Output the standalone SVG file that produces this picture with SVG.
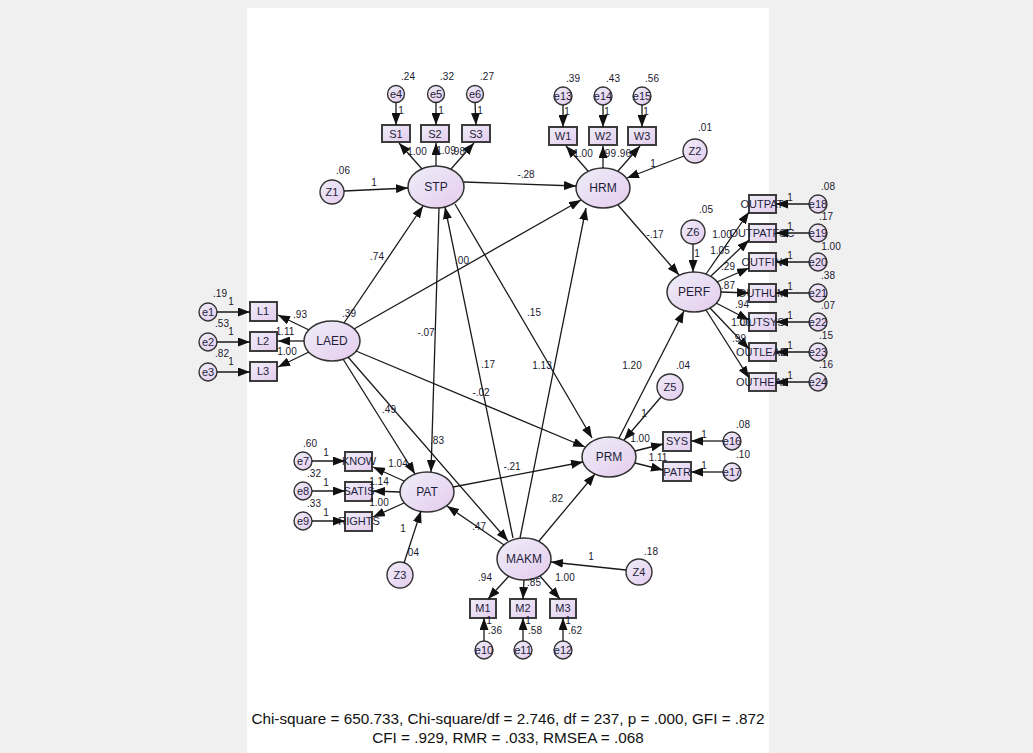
<svg xmlns="http://www.w3.org/2000/svg" width="1033" height="753" viewBox="0 0 1033 753">
<defs>
  <linearGradient id="fillg" x1="0" y1="0" x2="1" y2="1">
    <stop offset="0" stop-color="#eeeef8"/>
    <stop offset="1" stop-color="#e5ccee"/>
  </linearGradient>
  <marker id="ah" markerUnits="userSpaceOnUse" markerWidth="12" markerHeight="9" viewBox="0 0 12 9" refX="12" refY="4.5" orient="auto">
    <path d="M0,0 L12,4.5 L0,9 z" fill="#111"/>
  </marker>
  <style>
    .lat{fill:url(#fillg);stroke:#333;stroke-width:1.5}
    .obs{fill:url(#fillg);stroke:#3c3c3c;stroke-width:2}
    .err{fill:url(#fillg);stroke:#333;stroke-width:1.4}
    .cn line{stroke:#1a1a1a;stroke-width:1.3;marker-end:url(#ah)}
    text{font-family:"Liberation Sans",Arial,sans-serif;text-anchor:middle;dominant-baseline:central;fill:#1e1e3a}
    .nm{font-size:12px}
    .ob{font-size:11px}
    .el{font-size:11px}
    .c{font-size:10px;fill:#1a1a2e}
    .fit{font-size:15.3px;fill:#111}
  </style>
</defs>

<!-- page background and white drawing panel -->
<rect x="0" y="0" width="1033" height="753" fill="#f0f0f0"/>
<rect x="247" y="8" width="522" height="745" fill="#ffffff"/>

<!-- latent variables -->
<g id="STP"><ellipse class="lat" cx="436" cy="187" rx="28" ry="21"/><text class="nm" x="436" y="187">STP</text></g>
<g id="HRM"><ellipse class="lat" cx="603" cy="188" rx="27" ry="20"/><text class="nm" x="603" y="188">HRM</text></g>
<g id="PERF"><ellipse class="lat" cx="694" cy="292" rx="27" ry="20"/><text class="nm" x="694" y="292">PERF</text></g>
<g id="LAED"><ellipse class="lat" cx="332" cy="341" rx="28" ry="20"/><text class="nm" x="332" y="341">LAED</text></g>
<g id="PAT"><ellipse class="lat" cx="427" cy="492" rx="27" ry="20"/><text class="nm" x="427" y="492">PAT</text></g>
<g id="PRM"><ellipse class="lat" cx="609" cy="457" rx="27" ry="20"/><text class="nm" x="609" y="457">PRM</text></g>
<g id="MAKM"><ellipse class="lat" cx="524" cy="559" rx="27" ry="21"/><text class="nm" x="524" y="559">MAKM</text></g>

<!-- disturbances -->
<g id="Z1"><circle class="err" cx="332" cy="192" r="12"/><text class="el" x="332" y="192">Z1</text></g>
<g id="Z2"><circle class="err" cx="695" cy="151" r="12"/><text class="el" x="695" y="151">Z2</text></g>
<g id="Z3"><circle class="err" cx="400" cy="575" r="13"/><text class="el" x="400" y="575">Z3</text></g>
<g id="Z4"><circle class="err" cx="639" cy="572" r="13"/><text class="el" x="639" y="572">Z4</text></g>
<g id="Z5"><circle class="err" cx="670" cy="387" r="13"/><text class="el" x="670" y="387">Z5</text></g>
<g id="Z6"><circle class="err" cx="693" cy="232" r="12"/><text class="el" x="693" y="232">Z6</text></g>

<!-- observed indicators -->
<g id="S1"><rect class="obs" x="382" y="125" width="28" height="17"/><text class="ob" x="396" y="134">S1</text></g>
<g id="S2"><rect class="obs" x="421" y="125" width="28" height="17"/><text class="ob" x="435" y="134">S2</text></g>
<g id="S3"><rect class="obs" x="462" y="125" width="28" height="17"/><text class="ob" x="476" y="134">S3</text></g>
<g id="W1"><rect class="obs" x="549" y="127" width="28" height="18"/><text class="ob" x="563" y="136">W1</text></g>
<g id="W2"><rect class="obs" x="589" y="127" width="28" height="18"/><text class="ob" x="603" y="136">W2</text></g>
<g id="W3"><rect class="obs" x="628" y="127" width="28" height="18"/><text class="ob" x="642" y="136">W3</text></g>
<g id="L1"><rect class="obs" x="250" y="302" width="27" height="19"/><text class="ob" x="263" y="311">L1</text></g>
<g id="L2"><rect class="obs" x="250" y="332" width="27" height="19"/><text class="ob" x="263" y="341">L2</text></g>
<g id="L3"><rect class="obs" x="250" y="362" width="27" height="19"/><text class="ob" x="263" y="371">L3</text></g>
<g id="KNOW"><rect class="obs" x="345" y="452" width="27" height="19"/><text class="ob" x="359" y="461">KNOW</text></g>
<g id="SATIS"><rect class="obs" x="345" y="482" width="27" height="19"/><text class="ob" x="359" y="491">SATIS</text></g>
<g id="RIGHTS"><rect class="obs" x="345" y="512" width="27" height="19"/><text class="ob" x="359" y="521">RIGHTS</text></g>
<g id="M1"><rect class="obs" x="470" y="599" width="26" height="19"/><text class="ob" x="483" y="608">M1</text></g>
<g id="M2"><rect class="obs" x="510" y="599" width="26" height="19"/><text class="ob" x="523" y="608">M2</text></g>
<g id="M3"><rect class="obs" x="550" y="599" width="26" height="19"/><text class="ob" x="563" y="608">M3</text></g>
<g id="SYS"><rect class="obs" x="663" y="432" width="28" height="19"/><text class="ob" x="677" y="441">SYS</text></g>
<g id="PATR"><rect class="obs" x="663" y="462" width="28" height="19"/><text class="ob" x="677" y="472">PATR</text></g>
<g id="OUTPAT"><rect class="obs" x="749" y="195" width="27" height="18"/><text class="ob" x="762" y="204">OUTPAT</text></g>
<g id="OUTPATFSC"><rect class="obs" x="749" y="224" width="27" height="18"/><text class="ob" x="762" y="233">OUTPATFSC</text></g>
<g id="OUTFIN"><rect class="obs" x="749" y="253" width="27" height="18"/><text class="ob" x="762" y="262">OUTFIN</text></g>
<g id="OUTHUM"><rect class="obs" x="749" y="284" width="27" height="18"/><text class="ob" x="762" y="293">OUTHUM</text></g>
<g id="OUTSYS"><rect class="obs" x="749" y="313" width="27" height="18"/><text class="ob" x="762" y="322">OUTSYS</text></g>
<g id="OUTLEAD"><rect class="obs" x="749" y="343" width="27" height="18"/><text class="ob" x="762" y="352">OUTLEAD</text></g>
<g id="OUTHEAL"><rect class="obs" x="749" y="373" width="27" height="18"/><text class="ob" x="762" y="382">OUTHEAL</text></g>

<!-- measurement errors -->
<g id="e1"><circle class="err" cx="208" cy="312" r="9"/><text class="el" x="208" y="312">e1</text></g>
<g id="e2"><circle class="err" cx="208" cy="342" r="9"/><text class="el" x="208" y="342">e2</text></g>
<g id="e3"><circle class="err" cx="208" cy="372" r="9"/><text class="el" x="208" y="372">e3</text></g>
<g id="e4"><circle class="err" cx="396" cy="94" r="8.5"/><text class="el" x="396" y="94">e4</text></g>
<g id="e5"><circle class="err" cx="436" cy="94" r="8.5"/><text class="el" x="436" y="94">e5</text></g>
<g id="e6"><circle class="err" cx="475" cy="94" r="8.5"/><text class="el" x="475" y="94">e6</text></g>
<g id="e7"><circle class="err" cx="303" cy="461" r="9"/><text class="el" x="303" y="461">e7</text></g>
<g id="e8"><circle class="err" cx="303" cy="491" r="9"/><text class="el" x="303" y="491">e8</text></g>
<g id="e9"><circle class="err" cx="303" cy="521" r="9"/><text class="el" x="303" y="521">e9</text></g>
<g id="e10"><circle class="err" cx="484" cy="650" r="9"/><text class="el" x="484" y="650">e10</text></g>
<g id="e11"><circle class="err" cx="523" cy="650" r="9"/><text class="el" x="523" y="650">e11</text></g>
<g id="e12"><circle class="err" cx="563" cy="650" r="9"/><text class="el" x="563" y="650">e12</text></g>
<g id="e13"><circle class="err" cx="563" cy="96" r="9"/><text class="el" x="563" y="96">e13</text></g>
<g id="e14"><circle class="err" cx="603" cy="96" r="9"/><text class="el" x="603" y="96">e14</text></g>
<g id="e15"><circle class="err" cx="642" cy="96" r="9"/><text class="el" x="642" y="96">e15</text></g>
<g id="e16"><circle class="err" cx="732" cy="441" r="9"/><text class="el" x="732" y="441">e16</text></g>
<g id="e17"><circle class="err" cx="732" cy="472" r="9"/><text class="el" x="732" y="472">e17</text></g>
<g id="e18"><circle class="err" cx="818" cy="204" r="9"/><text class="el" x="818" y="204">e18</text></g>
<g id="e19"><circle class="err" cx="818" cy="233" r="9"/><text class="el" x="818" y="233">e19</text></g>
<g id="e20"><circle class="err" cx="818" cy="262" r="9"/><text class="el" x="818" y="262">e20</text></g>
<g id="e21"><circle class="err" cx="818" cy="293" r="9"/><text class="el" x="818" y="293">e21</text></g>
<g id="e22"><circle class="err" cx="818" cy="322" r="9"/><text class="el" x="818" y="322">e22</text></g>
<g id="e23"><circle class="err" cx="818" cy="352" r="9"/><text class="el" x="818" y="352">e23</text></g>
<g id="e24"><circle class="err" cx="818" cy="382" r="9"/><text class="el" x="818" y="382">e24</text></g>

<!-- paths and loadings -->
<g id="connectors" class="cn">
  <!-- structural paths -->
  <line x1="344" y1="191" x2="408" y2="188"/>
  <line x1="464" y1="182" x2="576" y2="186"/>
  <line x1="344" y1="323" x2="423" y2="206"/>
  <line x1="354" y1="329" x2="581" y2="200"/>
  <line x1="356" y1="351" x2="585" y2="447"/>
  <line x1="343" y1="359" x2="415" y2="474"/>
  <line x1="348" y1="357" x2="508" y2="541"/>
  <line x1="439" y1="208" x2="431" y2="472"/>
  <line x1="513" y1="538" x2="445" y2="207"/>
  <line x1="455" y1="204" x2="592" y2="438"/>
  <line x1="520" y1="538" x2="586" y2="208"/>
  <line x1="539" y1="541" x2="595" y2="474"/>
  <line x1="504" y1="545" x2="447" y2="506"/>
  <line x1="453" y1="487" x2="583" y2="462"/>
  <line x1="619" y1="438" x2="684" y2="311"/>
  <line x1="618" y1="205" x2="679" y2="275"/>
  <line x1="684" y1="156" x2="627" y2="178"/>
  <line x1="693" y1="244" x2="693" y2="272"/>
  <line x1="661" y1="397" x2="624" y2="440"/>
  <line x1="404" y1="563" x2="421" y2="511"/>
  <line x1="626" y1="570" x2="551" y2="562"/>
  <!-- STP indicators -->
  <line x1="422" y1="169" x2="399" y2="143"/>
  <line x1="436" y1="166" x2="436" y2="143"/>
  <line x1="451" y1="169" x2="474" y2="143"/>
  <line x1="396" y1="102" x2="396" y2="125"/>
  <line x1="436" y1="102" x2="436" y2="125"/>
  <line x1="475" y1="102" x2="476" y2="125"/>
  <!-- HRM indicators -->
  <line x1="588" y1="171" x2="566" y2="146"/>
  <line x1="603" y1="168" x2="603" y2="146"/>
  <line x1="618" y1="171" x2="640" y2="146"/>
  <line x1="563" y1="105" x2="563" y2="127"/>
  <line x1="603" y1="105" x2="603" y2="127"/>
  <line x1="642" y1="105" x2="642" y2="127"/>
  <!-- LAED indicators -->
  <line x1="309" y1="330" x2="278" y2="315"/>
  <line x1="304" y1="341" x2="278" y2="341"/>
  <line x1="309" y1="352" x2="278" y2="367"/>
  <line x1="217" y1="312" x2="250" y2="312"/>
  <line x1="217" y1="342" x2="250" y2="342"/>
  <line x1="217" y1="372" x2="250" y2="372"/>
  <!-- PAT indicators -->
  <line x1="404" y1="481" x2="373" y2="467"/>
  <line x1="400" y1="492" x2="373" y2="491"/>
  <line x1="404" y1="503" x2="373" y2="517"/>
  <line x1="312" y1="461" x2="345" y2="461"/>
  <line x1="312" y1="491" x2="345" y2="491"/>
  <line x1="312" y1="521" x2="345" y2="521"/>
  <!-- MAKM indicators -->
  <line x1="509" y1="576" x2="488" y2="599"/>
  <line x1="524" y1="580" x2="523" y2="599"/>
  <line x1="540" y1="576" x2="560" y2="599"/>
  <line x1="484" y1="641" x2="484" y2="618"/>
  <line x1="523" y1="641" x2="523" y2="618"/>
  <line x1="563" y1="641" x2="563" y2="618"/>
  <!-- PRM indicators -->
  <line x1="635" y1="451" x2="663" y2="444"/>
  <line x1="635" y1="463" x2="663" y2="470"/>
  <line x1="723" y1="441" x2="691" y2="441"/>
  <line x1="723" y1="472" x2="691" y2="472"/>
  <!-- PERF indicators -->
  <line x1="706" y1="274" x2="749" y2="212"/>
  <line x1="711" y1="276" x2="749" y2="240"/>
  <line x1="717" y1="282" x2="749" y2="268"/>
  <line x1="721" y1="292" x2="749" y2="293"/>
  <line x1="716" y1="303" x2="749" y2="320"/>
  <line x1="710" y1="308" x2="749" y2="349"/>
  <line x1="706" y1="310" x2="749" y2="378"/>
  <line x1="809" y1="204" x2="776" y2="204"/>
  <line x1="809" y1="233" x2="776" y2="233"/>
  <line x1="809" y1="262" x2="776" y2="262"/>
  <line x1="809" y1="293" x2="776" y2="293"/>
  <line x1="809" y1="322" x2="776" y2="322"/>
  <line x1="809" y1="352" x2="776" y2="352"/>
  <line x1="809" y1="382" x2="776" y2="382"/>
</g>

<!-- estimates -->
<g id="estimates" class="c">
  <text class="c" x="408" y="76">.24</text><text class="c" x="447" y="76">.32</text><text class="c" x="487" y="76">.27</text>
  <text class="c" x="401" y="110">1</text><text class="c" x="441" y="110">1</text><text class="c" x="480" y="110">1</text>
  <text class="c" x="417" y="151">1.00</text><text class="c" x="446" y="150">1.09</text><text class="c" x="458" y="151">.98</text>
  <text class="c" x="343" y="170">.06</text><text class="c" x="374" y="182">1</text>
  <text class="c" x="573" y="78">.39</text><text class="c" x="613" y="78">.43</text><text class="c" x="652" y="78">.56</text>
  <text class="c" x="567" y="111">1</text><text class="c" x="607" y="111">1</text><text class="c" x="646" y="111">1</text>
  <text class="c" x="583" y="153">1.00</text><text class="c" x="609" y="153">.99</text><text class="c" x="624" y="153">.96</text>
  <text class="c" x="705" y="127">.01</text><text class="c" x="653" y="163">1</text>
  <text class="c" x="526" y="174">-.28</text>
  <text class="c" x="220" y="293">.19</text><text class="c" x="231" y="301">1</text>
  <text class="c" x="222" y="323">.53</text><text class="c" x="231" y="331">1</text>
  <text class="c" x="222" y="353">.82</text><text class="c" x="231" y="361">1</text>
  <text class="c" x="300" y="314">.93</text><text class="c" x="285" y="331">1.11</text><text class="c" x="287" y="351">1.00</text>
  <text class="c" x="349" y="313">.39</text>
  <text class="c" x="377" y="256">.74</text><text class="c" x="462" y="260">.00</text><text class="c" x="426" y="332">-.07</text>
  <text class="c" x="534" y="312">.15</text><text class="c" x="488" y="364">.17</text><text class="c" x="542" y="365">1.13</text>
  <text class="c" x="481" y="392">-.02</text><text class="c" x="389" y="409">.49</text><text class="c" x="437" y="440">.83</text>
  <text class="c" x="512" y="466">-.21</text><text class="c" x="556" y="498">.82</text><text class="c" x="479" y="526">.47</text>
  <text class="c" x="632" y="365">1.20</text><text class="c" x="655" y="234">-.17</text>
  <text class="c" x="310" y="443">.60</text><text class="c" x="326" y="452">1</text>
  <text class="c" x="314" y="473">.32</text><text class="c" x="326" y="482">1</text>
  <text class="c" x="314" y="503">.33</text><text class="c" x="326" y="512">1</text>
  <text class="c" x="398" y="463">1.04</text><text class="c" x="379" y="481">1.14</text><text class="c" x="379" y="502">1.00</text>
  <text class="c" x="403" y="528">1</text><text class="c" x="412" y="552">.04</text>
  <text class="c" x="591" y="556">1</text><text class="c" x="651" y="551">.18</text>
  <text class="c" x="485" y="577">.94</text><text class="c" x="534" y="582">.85</text><text class="c" x="565" y="577">1.00</text>
  <text class="c" x="489" y="620">1</text><text class="c" x="495" y="630">.36</text>
  <text class="c" x="528" y="620">1</text><text class="c" x="535" y="630">.58</text>
  <text class="c" x="568" y="620">1</text><text class="c" x="575" y="630">.62</text>
  <text class="c" x="683" y="365">.04</text><text class="c" x="644" y="413">1</text>
  <text class="c" x="640" y="438">1.00</text><text class="c" x="658" y="457">1.11</text>
  <text class="c" x="743" y="424">.08</text><text class="c" x="704" y="434">1</text>
  <text class="c" x="743" y="454">.10</text><text class="c" x="704" y="465">1</text>
  <text class="c" x="706" y="209">.05</text><text class="c" x="697" y="253">1</text>
  <text class="c" x="722" y="234">1.00</text><text class="c" x="720" y="250">1.05</text><text class="c" x="728" y="266">.29</text>
  <text class="c" x="728" y="285">.87</text><text class="c" x="742" y="304">.94</text><text class="c" x="741" y="322">1.00</text>
  <text class="c" x="739" y="338">.99</text>
  <text class="c" x="790" y="197">1</text><text class="c" x="790" y="226">1</text><text class="c" x="790" y="255">1</text>
  <text class="c" x="790" y="286">1</text><text class="c" x="790" y="315">1</text><text class="c" x="790" y="345">1</text>
  <text class="c" x="790" y="375">1</text>
  <text class="c" x="828" y="186">.08</text><text class="c" x="826" y="216">.17</text><text class="c" x="831" y="246">1.00</text>
  <text class="c" x="828" y="275">.38</text><text class="c" x="828" y="305">.07</text><text class="c" x="826" y="335">.15</text>
  <text class="c" x="826" y="364">.16</text>
</g>

<!-- fit indices -->
<g id="fit">
  <text class="fit" x="508" y="718">Chi-square = 650.733, Chi-square/df = 2.746, df = 237, p = .000, GFI = .872</text>
  <text class="fit" x="508" y="737">CFI = .929, RMR = .033, RMSEA = .068</text>
</g>
</svg>
